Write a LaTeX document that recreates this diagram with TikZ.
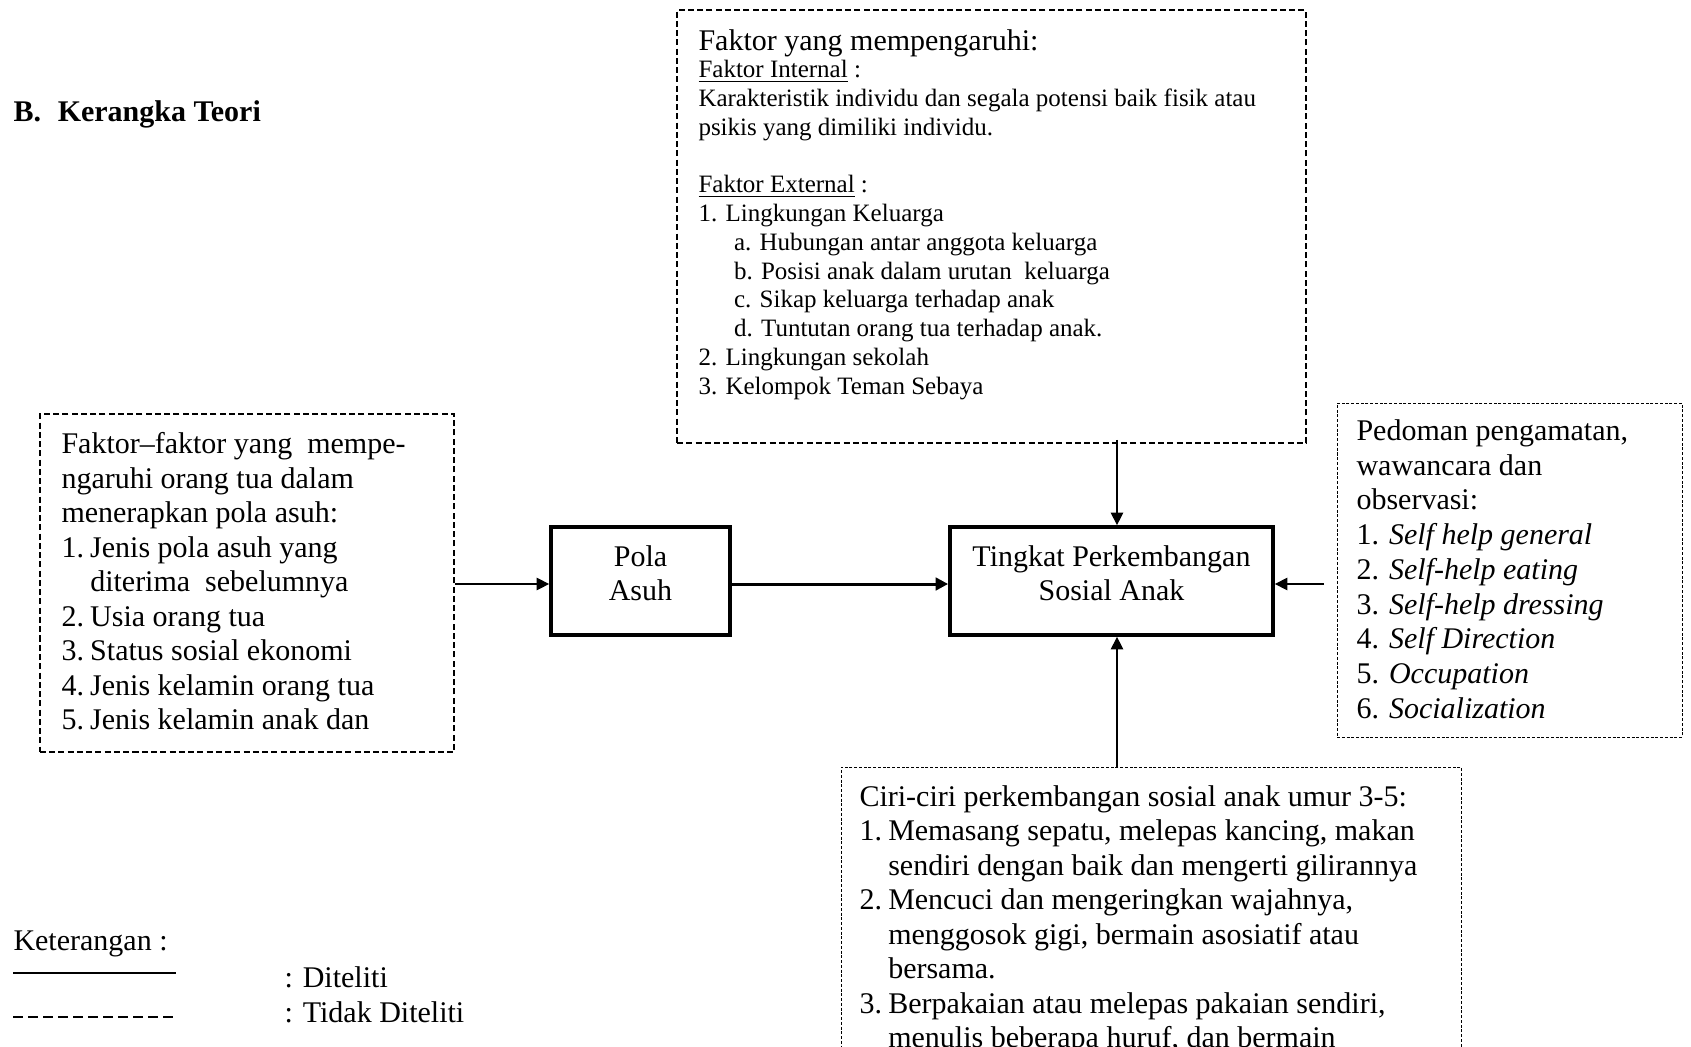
\documentclass[tikz,border=0pt]{standalone}
\usepackage{fontspec}
\setmainfont{Liberation Serif}
\usetikzlibrary{arrows.meta}
\newcommand{\nr}[1]{\makebox[11.5pt][l]{#1.}}
\newcommand{\nrin}{\hspace*{11.5pt}}
\newcommand{\duabaris}[2]{\raisebox{1.8pt}[\height][\depth]{\begin{tabular}{@{}c@{}}#1\\#2\end{tabular}}}

\begin{document}
\begin{tikzpicture}[x=0.4pt,y=-0.4pt,
	txt/.style={anchor=north west,inner sep=0pt,align=left,font=\fontsize{12}{13.8}\selectfont},
	dbox/.style={draw,dash pattern=on 2.4pt off 1.3pt,line width=0.55pt,inner sep=0pt},
	fbox/.style={draw,dash pattern=on 1.2pt off 0.7pt,line width=0.4pt,inner sep=0pt},
	mainbox/.style={draw,line width=1.5pt,inner sep=0pt,font=\fontsize{12}{13.8}\selectfont,minimum height=43.2pt},
	arr/.style={-{Triangle[length=5pt,width=5pt]},line width=0.5pt}]
	\useasboundingbox (0,0) rectangle (1691,1046);
	\node[txt,font=\bfseries\fontsize{12}{13.8}\selectfont] (judul) at (13,100) {B.\hspace{6.7pt}Kerangka Teori};

	\node[dbox,minimum width=251.6pt,minimum height=173.2pt] (faktor) at (991.5,226.5) {};
	\node[txt] (faktorjudul) at (698,29) {Faktor yang mempengaruhi:};
	\node[txt,font=\fontsize{10}{11.5}\selectfont] (faktorisi) at (698,60) {%
		\underline{Faktor Internal} :\\
		Karakteristik individu dan segala potensi baik fisik atau\\
		psikis yang dimiliki individu.\\[11.5pt]
		\underline{Faktor External} :\\
		1. Lingkungan Keluarga\\
		\hspace*{14.2pt}a. Hubungan antar anggota keluarga\\
		\hspace*{14.2pt}b. Posisi anak dalam urutan\ \ keluarga\\
		\hspace*{14.2pt}c. Sikap keluarga terhadap anak\\
		\hspace*{14.2pt}d. Tuntutan orang tua terhadap anak.\\
		2. Lingkungan sekolah\\
		3. Kelompok Teman Sebaya};

	\node[dbox,minimum width=165.6pt,minimum height=135.2pt] (orangtua) at (247,583) {};
	\node[txt] (orangtuaisi) at (61,432) {%
		Faktor–faktor yang\ \ mempe-\\
		ngaruhi orang tua dalam\\
		menerapkan pola asuh:\\
		\nr{1}Jenis pola asuh yang\\
		\nrin diterima\ \ sebelumnya\\
		\nr{2}Usia orang tua\\
		\nr{3}Status sosial ekonomi\\
		\nr{4}Jenis kelamin orang tua\\
		\nr{5}Jenis kelamin anak dan};

	\node[mainbox,minimum width=71.6pt] (pola) at (640.5,581) {\duabaris{Pola}{Asuh}};
	\node[mainbox,minimum width=129.2pt] (tingkat) at (1111.5,581) {\duabaris{Tingkat Perkembangan}{Sosial Anak}};

	\node[fbox,minimum width=138pt,minimum height=133.6pt] (pedoman) at (1509.5,570) {};
	\node[txt,font=\fontsize{12}{13.9}\selectfont] (pedomanisi) at (1356,419) {%
		Pedoman pengamatan,\\
		wawancara dan\\
		observasi:\\
		1. \textit{Self help general}\\
		2. \textit{Self-help eating}\\
		3. \textit{Self-help dressing}\\
		4. \textit{Self Direction}\\
		5. \textit{Occupation}\\
		6. \textit{Socialization}};
	\coordinate (pedomankiri) at (1324,584);
	\coordinate (tengah) at (1117,581);

	\node[fbox,minimum width=248pt,minimum height=141.2pt] (ciri) at (1151,943.5) {};
	\node[txt] (ciriisi) at (859,785) {%
		Ciri-ciri perkembangan sosial anak umur 3-5:\\
		\nr{1}Memasang sepatu, melepas kancing, makan\\
		\nrin sendiri dengan baik dan mengerti gilirannya\\
		\nr{2}Mencuci dan mengeringkan wajahnya,\\
		\nrin menggosok gigi, bermain asosiatif atau\\
		\nrin bersama.\\
		\nr{3}Berpakaian atau melepas pakaian sendiri,\\
		\nrin menulis beberapa huruf, dan bermain};

	\draw[arr] (orangtua.east |- pedomankiri) -- (pola.west |- pedomankiri);
	\draw[arr,line width=1.2pt] (pola.east |- pedomankiri) -- (tingkat.west |- pedomankiri);
	\draw[arr] ([yshift=1.5pt]tengah |- faktor.south) -- (tengah |- tingkat.north);
	\draw[arr] (tengah |- ciri.north) -- (tengah |- tingkat.south);
	\draw[arr] (pedomankiri) -- (tingkat.east |- pedomankiri);

	\node[txt] (ket) at (13,930) {Keterangan :};
	\coordinate (solida) at (13,973);
	\coordinate (solidb) at (176,973);
	\coordinate (putusa) at (13,1017);
	\coordinate (putusb) at (176,1017);
	\draw[line width=0.5pt] (solida) -- (solidb);
	\draw[dash pattern=on 3.8pt off 2.2pt,line width=1pt] (putusa) -- (putusb);
	\node[txt] (diteliti) at (284,966) {: Diteliti};
	\node[txt] (tidakditeliti) at (284,1001) {: Tidak Diteliti};
\end{tikzpicture}
\end{document}
